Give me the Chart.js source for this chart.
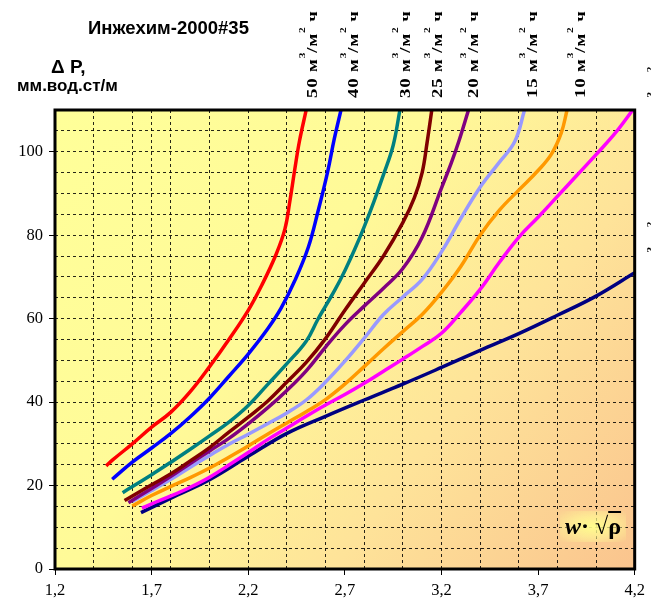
<!DOCTYPE html>
<html>
<head>
<meta charset="utf-8">
<script src="https://cdn.jsdelivr.net/npm/chart.js@4.4.1/dist/chart.umd.min.js"></script>
<style>
  html, body { margin:0; padding:0; background:#fff; overflow:hidden; }
  #wrap { position:relative; width:651px; height:608px; overflow:hidden; }
  canvas { position:absolute; left:0; top:0; }
  .t { position:absolute; font-family:"Liberation Sans", Arial, sans-serif; font-weight:bold; color:#000; white-space:nowrap; line-height:1.15; }
  .rl { position:absolute; transform-origin:0 0; transform:rotate(-90deg) scaleX(1.25);
        font-family:"Liberation Serif","Times New Roman",serif; font-weight:bold; font-size:15px; line-height:15px;
        letter-spacing:0.7px; white-space:nowrap; color:#000; }
  .rl sup { font-size:9px; vertical-align:12px; line-height:0; letter-spacing:0; }
  #wr { position:absolute; left:560px; top:511px; font-family:"Liberation Serif","Times New Roman",serif; font-weight:bold; font-size:24px;
        padding:2px 5px; white-space:nowrap;
        background:radial-gradient(ellipse at center, rgba(255,255,140,0.95) 0%, rgba(255,250,150,0.6) 50%, rgba(255,240,160,0) 100%); }
  #wr .sq { margin-left:6px; }
  #wr .ov { text-decoration: overline; }
</style>
</head>
<body>
<div id="wrap">
<canvas id="c" width="651" height="608"></canvas>
<div class="t" style="left:88px;top:17px;font-size:18.5px;">Инжехим-2000#35</div>
<div class="t" style="left:51px;top:56px;font-size:19px;">Δ P,</div>
<div class="t" style="left:17px;top:76px;font-size:17px;">мм.вод.ст/м</div>
<div id="labels"></div>
<div id="wr"><i>w</i>·<span class="sq">√</span><span class="ov">ρ</span></div>
</div>
<script>
// ---- data ----
const flowLabels = ['50','40','30','25','20','15','10','5','0'];
const curveColors = ['#FF0000','#0000FF','#008080','#800000','#800080','#9999FF','#FF9900','#FF00FF','#000080'];

const xTickVals = [1.2, 1.7, 2.2, 2.7, 3.2, 3.7, 4.2];
const yTickVals = [0, 20, 40, 60, 80, 100];
const xGridVals = [1.4, 1.6, 1.7, 1.8, 2.0, 2.2, 2.4, 2.6, 2.8, 3.0, 3.2, 3.4, 3.6, 3.8, 4.0];
const yGridVals = [5, 10, 15, 20, 25, 30, 35, 40, 45, 50, 55, 60, 65, 70, 75, 80, 85, 90, 95, 100, 105];

const wr50 = [1.465, 1.5, 1.6, 1.7, 1.8, 1.9, 2.0, 2.1, 2.2, 2.27, 2.345, 2.39, 2.415, 2.44, 2.465, 2.5];
const dp50 = [24.7, 26.2, 30.0, 34.0, 37.6, 42.5, 48.5, 55.0, 62.0, 68.0, 75.5, 81.5, 88.0, 95.5, 102.5, 110];

const wr40 = [1.496, 1.6, 1.7, 1.8, 1.9, 2.0, 2.1, 2.2, 2.3, 2.37, 2.44, 2.51, 2.56, 2.61, 2.645, 2.68];
const dp40 = [21.5, 25.6, 29.0, 32.5, 36.5, 41.0, 46.2, 51.5, 57.5, 62.5, 69.0, 77.0, 85.5, 95.0, 103.0, 110];

const wr30 = [1.55, 1.7, 1.8, 1.9, 2.0, 2.1, 2.2, 2.3, 2.4, 2.5, 2.56, 2.6, 2.65, 2.7, 2.75, 2.8, 2.85, 2.9, 2.95, 2.985];
const dp30 = [18.3, 22.6, 25.6, 28.7, 31.9, 35.2, 39.2, 44.2, 49.2, 54.6, 59.8, 63.0, 67.0, 71.5, 76.5, 82.0, 88.0, 94.5, 101.5, 110];

const wr25 = [1.56, 1.7, 1.8, 1.9, 2.0, 2.1, 2.2, 2.3, 2.4, 2.5, 2.6, 2.7, 2.8, 2.9, 3.0, 3.06, 3.1, 3.125, 3.15];
const dp25 = [16.4, 20.2, 22.8, 25.9, 29.1, 32.8, 36.4, 40.2, 44.8, 49.5, 55.2, 62.0, 68.5, 75.0, 83.0, 89.0, 95.0, 102.0, 110];

const wr20 = [1.58, 1.7, 1.8, 1.9, 2.0, 2.1, 2.2, 2.3, 2.4, 2.5, 2.6, 2.7, 2.8, 2.9, 3.0, 3.1, 3.2, 3.25, 3.29, 3.34];
const dp20 = [15.9, 19.3, 22.2, 25.3, 28.3, 31.3, 34.8, 38.6, 42.8, 47.5, 53.2, 58.5, 63.0, 67.3, 72.0, 79.5, 91.3, 97.2, 102.5, 110];

const wr15 = [1.6, 1.7, 1.8, 1.9, 2.0, 2.1, 2.2, 2.3, 2.4, 2.5, 2.6, 2.7, 2.8, 2.9, 3.0, 3.1, 3.2, 3.3, 3.4, 3.5, 3.58, 3.63];
const dp15 = [16.2, 18.8, 21.5, 24.4, 27.2, 29.9, 32.3, 34.8, 37.4, 40.5, 44.8, 49.8, 55.3, 61.0, 65.2, 69.4, 76.0, 84.0, 91.5, 97.5, 102.5, 110];

const wr10 = [1.6, 1.7, 1.8, 1.9, 2.0, 2.1, 2.2, 2.3, 2.4, 2.5, 2.6, 2.7, 2.8, 2.9, 3.0, 3.1, 3.2, 3.3, 3.4, 3.5, 3.6, 3.7, 3.77, 3.82, 3.85];
const dp10 = [15.1, 17.6, 19.8, 21.9, 24.2, 26.8, 29.5, 32.3, 35.0, 37.7, 40.6, 44.3, 48.5, 52.8, 56.9, 61.0, 66.3, 72.5, 80.0, 86.0, 90.8, 95.5, 99.5, 104.5, 110];

const wr5 = [1.65, 1.7, 1.8, 1.9, 2.0, 2.1, 2.2, 2.3, 2.4, 2.5, 2.6, 2.7, 2.8, 2.9, 3.0, 3.1, 3.2, 3.3, 3.4, 3.5, 3.6, 3.7, 3.8, 3.9, 4.0, 4.1, 4.19];
const dp5 = [14.6, 15.6, 17.5, 19.6, 22.0, 24.9, 27.9, 31.0, 33.8, 36.6, 39.3, 41.8, 44.5, 47.4, 50.3, 53.3, 56.5, 61.5, 67.0, 73.5, 79.5, 84.3, 89.3, 94.3, 99.3, 104.5, 110];

const wr0 = [1.645, 1.8, 2.0, 2.2, 2.4, 2.6, 2.8, 3.0, 3.2, 3.4, 3.6, 3.8, 4.0, 4.2];
const dp0 = [13.5, 17.0, 21.4, 27.0, 32.5, 36.6, 40.5, 44.3, 48.3, 52.4, 56.4, 60.8, 65.4, 71.0];

const seriesX = [wr50, wr40, wr30, wr25, wr20, wr15, wr10, wr5, wr0];
const seriesY = [dp50, dp40, dp30, dp25, dp20, dp15, dp10, dp5, dp0];

// ---- rotated flow labels (HTML text) ----
const labelLeft = [301.5, 342.5, 394.5, 426.5, 462.5, 521.5, 569.5, 650, 650];
const labelBottom = [98, 98, 98, 98, 98, 98, 98, 127, 282];
const labelsDiv = document.getElementById('labels');
flowLabels.forEach((f, i) => {
  const d = document.createElement('div');
  d.className = 'rl';
  d.style.left = labelLeft[i] + 'px';
  d.style.top = labelBottom[i] + 'px';
  d.innerHTML = f + ' м<sup>3</sup>/м<sup>2</sup> ч';
  labelsDiv.appendChild(d);
});

const datasets = flowLabels.map((f, i) => ({
  label: f + ' м3/м2 ч',
  data: seriesX[i].map((x, k) => ({x: x, y: seriesY[i][k]})),
  borderColor: curveColors[i],
  backgroundColor: curveColors[i],
  borderWidth: 3.5,
  pointRadius: 0,
  tension: 0.4,
  fill: false,
  xAxisID: 'x',
  yAxisID: 'y'
}));

const bgPlugin = {
  id: 'bg',
  beforeDraw(chart) {
    const {ctx, chartArea: a} = chart;
    const g = ctx.createLinearGradient(a.left, a.top, a.right, a.bottom);
    g.addColorStop(0, '#FFFF99');
    g.addColorStop(0.4, '#FFFA98');
    g.addColorStop(0.68, '#FEE399');
    g.addColorStop(1, '#FAC48E');
    ctx.save();
    ctx.fillStyle = g;
    ctx.fillRect(a.left, a.top, a.right - a.left, a.bottom - a.top);
    ctx.restore();
  },
  afterDraw(chart) {
    const {ctx, chartArea: a} = chart;
    ctx.save();
    ctx.strokeStyle = '#000';
    ctx.lineWidth = 3;
    ctx.strokeRect(a.left, a.top, a.right - a.left, a.bottom - a.top);
    ctx.restore();
  }
};

const fmt = v => Number(v).toFixed(1).replace('.', ',');

new Chart(document.getElementById('c'), {
  type: 'line',
  data: { datasets },
  plugins: [bgPlugin],
  options: {
    responsive: false,
    animation: false,
    devicePixelRatio: 1,
    layout: { padding: { top: 110, right: 11, left: 0, bottom: 0 } },
    plugins: { legend: { display: false }, tooltip: { enabled: false }, title: { display: false } },
    scales: {
      x: {
        type: 'linear', position: 'bottom', min: 1.2, max: 4.2,
        afterBuildTicks: s => { s.ticks = xTickVals.map(v => ({value: v})); },
        afterFit: s => { s.height = 39; },
        grid: { drawOnChartArea: false, drawTicks: true, tickLength: 6, color: '#000', lineWidth: 1 },
        border: { display: false },
        ticks: { color: '#000', padding: 6, maxRotation: 0, autoSkip: false,
                 font: { family: 'Liberation Serif', size: 16.5 }, callback: v => fmt(v) }
      },
      x2: {
        type: 'linear', position: 'bottom', min: 1.2, max: 4.2,
        afterBuildTicks: s => { s.ticks = xGridVals.map(v => ({value: v})); },
        afterFit: s => { s.height = 0; },
        grid: { drawTicks: false, color: 'rgba(0,0,0,0.85)', lineWidth: 1 },
        border: { display: false, dash: [3, 3] },
        ticks: { display: false }
      },
      y: {
        type: 'linear', position: 'left', min: 0, max: 110,
        afterBuildTicks: s => { s.ticks = yTickVals.map(v => ({value: v})); },
        afterFit: s => { s.width = 55; },
        grid: { drawOnChartArea: false, drawTicks: true, tickLength: 6, color: '#000', lineWidth: 1 },
        border: { display: false },
        ticks: { color: '#000', padding: 6, autoSkip: false,
                 font: { family: 'Liberation Serif', size: 16.5 }, callback: v => String(v) }
      },
      y2: {
        type: 'linear', position: 'left', min: 0, max: 110,
        afterBuildTicks: s => { s.ticks = yGridVals.map(v => ({value: v})); },
        afterFit: s => { s.width = 0; },
        grid: { drawTicks: false, color: 'rgba(0,0,0,0.85)', lineWidth: 1 },
        border: { display: false, dash: [3, 3] },
        ticks: { display: false }
      }
    }
  }
});
</script>
</body>
</html>
